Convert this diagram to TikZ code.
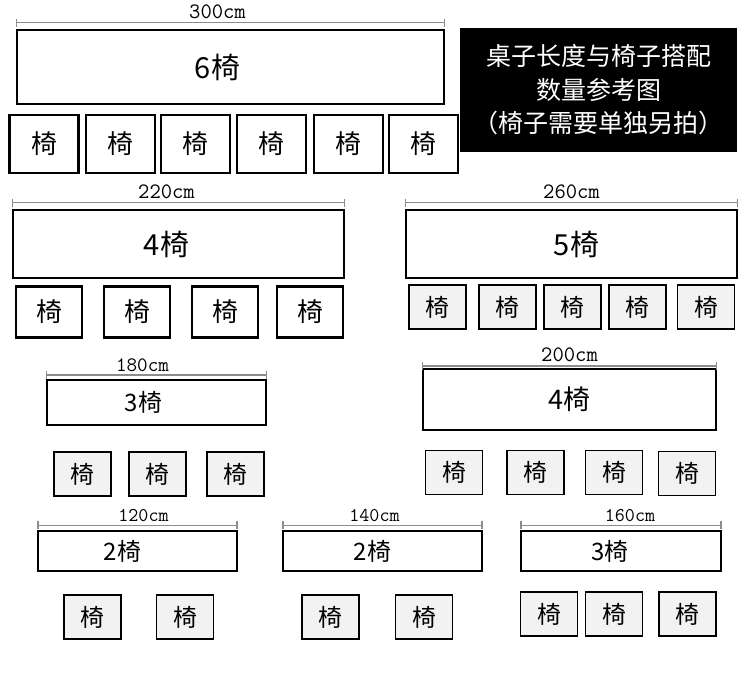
\documentclass[tikz,border=0pt]{standalone}
\usepackage{fontspec}
\usepackage{xcolor}
\usepackage{tikz}
\usetikzlibrary{arrows.meta}
\newfontfamily\cjk{Noto Sans CJK SC}
\definecolor{dimgray}{HTML}{8C8C8C}
\definecolor{chairbg}{HTML}{F2F2F2}
\tikzset{
  bigtable/.style={draw, line width=2.8pt, inner sep=0pt},
  midtable/.style={draw, line width=2pt, inner sep=0pt},
  thintable/.style={draw, line width=1.4pt, inner sep=0pt},
  tablelbl/.style={inner sep=0pt, font=\cjk\fontsize{29}{29}\selectfont},
  smalllbl/.style={inner sep=0pt, font=\cjk\fontsize{24}{24}\selectfont},
  chairw/.style={draw, line width=2.5pt, minimum width=69pt, minimum height=58pt, inner sep=0pt, font=\cjk\fontsize{26}{26}\selectfont},
  chairg/.style={draw, line width=1.8pt, fill=chairbg, minimum width=57pt, minimum height=44pt, inner sep=0pt, font=\cjk\fontsize{24}{24}\selectfont},
  dimline/.style={draw=dimgray, line width=1.4pt, {Bar[width=8pt]}-{Bar[width=8pt]}},
  dimlbl/.style={above=1pt, inner sep=2pt, text=black, font=\ttfamily\fontsize{22}{22}\selectfont},
  dimsmall/.style={dimlbl, font=\ttfamily\fontsize{19.5}{19.5}\selectfont},
  titlebox/.style={fill=black, text=white, align=center, minimum width=277pt, minimum height=124pt, font=\cjk\fontsize{25}{33.5}\selectfont}
}

\begin{document}
\begin{tikzpicture}[x=1pt, y=-1pt]
  \useasboundingbox (0,0) rectangle (750,678);

  % title
  \node[titlebox] (title) at (598.5,90) {桌子长度与椅子搭配\\数量参考图\\（椅子需要单独另拍）};

  % 300cm
  \node[bigtable, minimum width=427pt, minimum height=74pt] (t300) at (230.5,67) {};
  \node[tablelbl, xshift=-13pt] (t300l) at (t300) {6椅};
  \draw[dimline] ([yshift=6pt]t300.north west) -- node[dimlbl, xshift=-13pt] (d300) {300cm} ([yshift=6pt]t300.north east);
  \node[chairw] (c300a) at (44,144) {椅};
  \node[chairw] (c300b) at (120.5,144) {椅};
  \node[chairw] (c300c) at (195.5,144) {椅};
  \node[chairw] (c300d) at (271.5,144) {椅};
  \node[chairw] (c300e) at (348.5,144) {椅};
  \node[chairw] (c300f) at (423.5,144) {椅};

  % 220cm
  \node[bigtable, minimum width=331pt, minimum height=68pt] (t220) at (178.5,244) {};
  \node[tablelbl, xshift=-12pt] (t220l) at (t220) {4椅};
  \draw[dimline] ([yshift=6pt]t220.north west) -- node[dimlbl, xshift=-12pt] (d220) {220cm} ([yshift=6pt]t220.north east);
  \node[chairw, minimum width=66pt, minimum height=51pt] (c220a) at (49,312) {椅};
  \node[chairw, minimum width=66pt, minimum height=51pt] (c220b) at (137,312) {椅};
  \node[chairw, minimum width=66pt, minimum height=51pt] (c220c) at (225,312) {椅};
  \node[chairw, minimum width=66pt, minimum height=51pt] (c220d) at (310,312) {椅};

  % 260cm
  \node[bigtable, minimum width=331pt, minimum height=68pt] (t260) at (571.5,244) {};
  \node[tablelbl, xshift=5pt] (t260l) at (t260) {5椅};
  \draw[dimline] ([yshift=6pt]t260.north west) -- node[dimlbl] (d260) {260cm} ([yshift=6pt]t260.north east);
  \node[chairg] (c260a) at (437.5,307) {椅};
  \node[chairg] (c260b) at (507.5,307) {椅};
  \node[chairg] (c260c) at (572.5,307) {椅};
  \node[chairg] (c260d) at (637.5,307) {椅};
  \node[chairg] (c260e) at (706,307) {椅};

  % 180cm
  \node[midtable, minimum width=219pt, minimum height=45pt] (t180) at (156.5,402.5) {};
  \node[smalllbl, xshift=-13pt] (t180l) at (t180) {3椅};
  \draw[dimline] ([yshift=4pt]t180.north west) -- node[dimlbl, xshift=-14pt, font=\ttfamily\fontsize{20.5}{20.5}\selectfont] (d180) {180cm} ([yshift=4pt]t180.north east);
  \node[chairg] (c180a) at (82.5,474) {椅};
  \node[chairg] (c180b) at (157.5,474) {椅};
  \node[chairg] (c180c) at (235.5,474) {椅};

  % 200cm
  \node[midtable, line width=2.4pt, minimum width=293pt, minimum height=61pt] (t200) at (569.5,399.5) {};
  \node[tablelbl, font=\cjk\fontsize{27}{27}\selectfont] (t200l) at (t200) {4椅};
  \draw[dimline] ([yshift=2pt]t200.north west) -- node[dimlbl] (d200) {200cm} ([yshift=2pt]t200.north east);
  \node[chairg] (c200a) at (454,472.5) {椅};
  \node[chairg] (c200b) at (535.5,472.5) {椅};
  \node[chairg] (c200c) at (614,472.5) {椅};
  \node[chairg] (c200d) at (687,473.5) {椅};

  % 120cm
  \node[thintable, minimum width=199pt, minimum height=40pt] (t120) at (137.5,551) {};
  \node[smalllbl, xshift=-15pt] (t120l) at (t120) {2椅};
  \draw[dimline] ([yshift=5pt]t120.north west) -- node[dimsmall, xshift=6pt] (d120) {120cm} ([yshift=5pt]t120.north east);
  \node[chairg] (c120a) at (92.5,617) {椅};
  \node[chairg] (c120b) at (185,617) {椅};

  % 140cm
  \node[thintable, minimum width=199pt, minimum height=40pt] (t140) at (382.5,551) {};
  \node[smalllbl, xshift=-10pt] (t140l) at (t140) {2椅};
  \draw[dimline] ([yshift=5pt]t140.north west) -- node[dimsmall, xshift=-8pt] (d140) {140cm} ([yshift=5pt]t140.north east);
  \node[chairg] (c140a) at (330.5,617) {椅};
  \node[chairg] (c140b) at (424,617) {椅};

  % 160cm
  \node[thintable, minimum width=200pt, minimum height=40pt] (t160) at (621,551) {};
  \node[smalllbl, xshift=-11pt] (t160l) at (t160) {3椅};
  \draw[dimline] ([yshift=5pt]t160.north west) -- node[dimsmall, xshift=9pt] (d160) {160cm} ([yshift=5pt]t160.north east);
  \node[chairg] (c160a) at (549,614) {椅};
  \node[chairg] (c160b) at (614,614) {椅};
  \node[chairg] (c160c) at (687.5,614) {椅};
\end{tikzpicture}
\end{document}
